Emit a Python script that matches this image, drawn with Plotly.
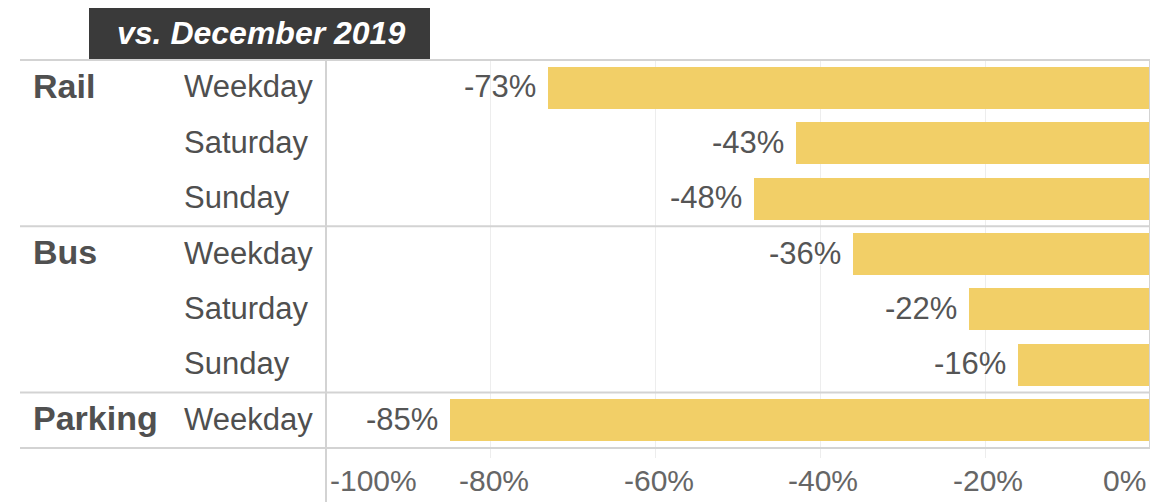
import plotly.graph_objects as go

# ---- data ----
groups = ["Rail", "Rail", "Rail", "Bus", "Bus", "Bus", "Parking"]
days = ["Weekday", "Saturday", "Sunday", "Weekday", "Saturday", "Sunday", "Weekday"]
values = [-73, -43, -48, -36, -22, -16, -85]          # % change vs. December 2019
tick_values = [-100, -80, -60, -40, -20, 0]
tick_labels = ["-100%", "-80%", "-60%", "-40%", "-20%", "0%"]
title_text = "vs. December 2019"

# ---- layout constants (pixels, in page coordinates) ----
OFF = 8                      # browser default body margin
PAGE_W, PAGE_H = 1158, 502
W, H = PAGE_W - OFF, PAGE_H - OFF
PLOT_L, PLOT_R, PLOT_T, PLOT_B = 326, 1150, 60, 448
ML = PLOT_L - OFF
MT = PLOT_T - OFF
MR = W - (PLOT_R - OFF)
MB = H - (PLOT_B - OFF)
PW = PLOT_R - PLOT_L
PH = PLOT_B - PLOT_T


def px_x(p):
    return (p - PLOT_L) / PW


def px_y(p):
    return (PLOT_B - p) / PH


FONT = "Liberation Sans, Arial, sans-serif"
BAR = "#F2CF67"
LINE = "#D3D3D3"
GRID = "#EDEDED"
TXT = "#555555"

rows = list(range(len(values)))

fig = go.Figure()
fig.add_trace(go.Bar(
    x=[v / 100 for v in values],
    y=rows,
    orientation="h",
    width=0.76,
    marker=dict(color=BAR, line=dict(width=0)),
    hoverinfo="skip",
))

annotations = []
# data labels
for r, v in zip(rows, values):
    annotations.append(dict(
        x=v / 100, y=r, xref="x", yref="y", text=f"{v}%",
        xanchor="right", yanchor="middle", xshift=-10, yshift=1, showarrow=False,
        font=dict(family=FONT, size=31, color=TXT),
    ))
# sub labels (days)
for r, d in zip(rows, days):
    annotations.append(dict(
        x=px_x(182), y=r, xref="paper", yref="y", text=d,
        xanchor="left", yanchor="middle", yshift=1, showarrow=False,
        font=dict(family=FONT, size=31, color="#4F4F4F"),
    ))
# group labels
seen = set()
for r, g in zip(rows, groups):
    if g in seen:
        continue
    seen.add(g)
    annotations.append(dict(
        x=px_x(31), y=r, xref="paper", yref="y", text=f"<b>{g}</b>",
        xanchor="left", yanchor="middle", yshift=2, showarrow=False,
        font=dict(family=FONT, size=34, color="#505050"),
    ))
# x tick labels
for i, (tv, tl) in enumerate(zip(tick_values, tick_labels)):
    anchor = "left" if i == 0 else ("right" if i == len(tick_values) - 1 else "center")
    shift = 2 if i == 0 else (-2 if i == len(tick_values) - 1 else 3)
    annotations.append(dict(
        x=tv / 100, y=px_y(480), xref="x", yref="paper", text=tl,
        xanchor=anchor, yanchor="middle", xshift=shift, showarrow=False,
        font=dict(family=FONT, size=30, color="#666666"),
    ))
# title box text
annotations.append(dict(
    x=px_x(261), y=px_y(33), xref="paper", yref="paper",
    text=f"<b><i>{title_text}</i></b>",
    xanchor="center", yanchor="middle", showarrow=False,
    font=dict(family=FONT, size=32, color="#FFFFFF"),
))

shapes = []
# title box
shapes.append(dict(type="rect", xref="paper", yref="paper",
                   x0=px_x(89), x1=px_x(430), y0=px_y(59), y1=px_y(6),
                   fillcolor="#3A3A3A", line=dict(width=0), layer="below"))
# horizontal rules: top, group separators, bottom
for yy, ref in [(1, "paper"), (2.5, "y"), (5.5, "y"), (0, "paper")]:
    shapes.append(dict(type="line", xref="paper", yref=ref,
                       x0=px_x(20), x1=1, y0=yy, y1=yy,
                       line=dict(color=LINE, width=2), layer="above"))
# left vertical rule
shapes.append(dict(type="line", xref="paper", yref="paper",
                   x0=0, x1=0, y0=px_y(PAGE_H), y1=1,
                   line=dict(color=LINE, width=2), layer="above"))
# right vertical rule
shapes.append(dict(type="line", xref="paper", yref="paper",
                   x0=1, x1=1, y0=0, y1=1,
                   line=dict(color=LINE, width=2), layer="above"))

fig.update_layout(
    width=W, height=H,
    margin=dict(l=ML, r=MR, t=MT, b=MB),
    paper_bgcolor="white", plot_bgcolor="white",
    showlegend=False,
    bargap=0,
    xaxis=dict(range=[-1, 0], tickvals=[v / 100 for v in tick_values],
               showticklabels=False, showgrid=True, gridcolor=GRID, gridwidth=1,
               ticks="outside", ticklen=9, tickcolor=GRID, tickwidth=1,
               zeroline=False, showline=False, fixedrange=True),
    yaxis=dict(range=[len(values) - 0.5, -0.5], showticklabels=False,
               showgrid=False, zeroline=False, showline=False, ticks="",
               fixedrange=True),
    annotations=annotations,
    shapes=shapes,
)

fig.write_html("out.html")
